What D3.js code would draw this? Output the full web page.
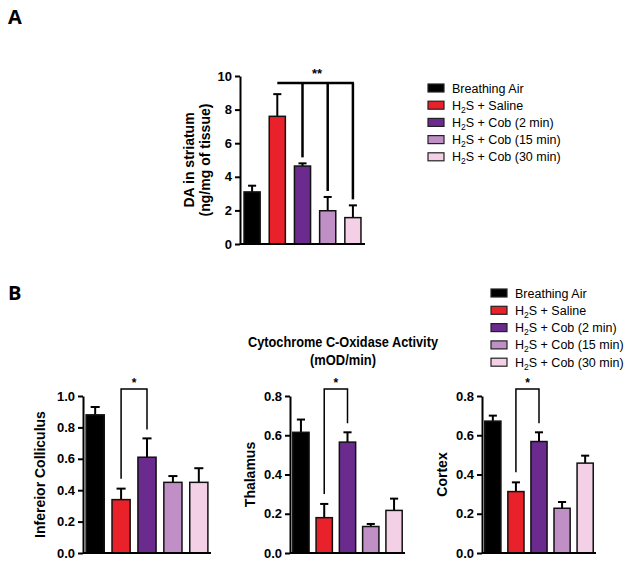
<!DOCTYPE html>
<html>
<head>
<meta charset="utf-8">
<script src="https://cdn.jsdelivr.net/npm/d3@7"></script>
<style>
  body { margin: 0; background: #fff; }
  svg { font-family: "Liberation Sans", Arial, sans-serif; }
  .axis path, .axis line { stroke: #000; stroke-width: 2; }
  .axis text { font-weight: bold; font-size: 13px; fill: #000; }
</style>
</head>
<body>
<svg id="chart" width="635" height="565"></svg>
<script>
// groups, shared by every panel
const groups = ['Breathing Air', 'H2S + Saline', 'H2S + Cob (2 min)', 'H2S + Cob (15 min)', 'H2S + Cob (30 min)'];
const groupColors = ['#000000', '#e8212b', '#6b2a8e', '#c08fc6', '#f3d0e6'];

// panel A: dopamine in striatum
const daMean = [3.1, 7.6, 4.64, 1.98, 1.57];
const daErr = [0.37, 1.32, 0.16, 0.82, 0.73];
const daTicks = [0, 2, 4, 6, 8, 10];

// panel B: cytochrome c oxidase
const icMean = [0.88, 0.34, 0.61, 0.45, 0.45];
const icErr = [0.05, 0.07, 0.12, 0.04, 0.09];
const icTicks = [0, 0.2, 0.4, 0.6, 0.8, 1.0];

const thMean = [0.615, 0.18, 0.565, 0.135, 0.217];
const thErr = [0.065, 0.07, 0.05, 0.013, 0.06];

const cxMean = [0.672, 0.313, 0.568, 0.228, 0.458];
const cxErr = [0.028, 0.047, 0.047, 0.032, 0.038];
const cbTicks = [0, 0.2, 0.4, 0.6, 0.8];

const svg = d3.select('#chart');

function barPanel (opt) {
  const g = svg.append('g').attr('transform', 'translate(' + opt.left + ',' + opt.top + ')');
  const x = d3.scaleBand().domain(groups).range([0, opt.width]).paddingInner(opt.pad).paddingOuter(opt.outer);
  const y = d3.scaleLinear().domain([0, opt.max]).range([opt.height, 0]);

  // error bars (upper only)
  const eb = g.selectAll('.err').data(opt.mean).enter().append('g');
  eb.append('line')
    .attr('x1', (d, i) => x(groups[i]) + x.bandwidth() / 2)
    .attr('x2', (d, i) => x(groups[i]) + x.bandwidth() / 2)
    .attr('y1', d => y(d))
    .attr('y2', (d, i) => y(d + opt.err[i]))
    .attr('stroke', '#000').attr('stroke-width', 2);
  eb.append('line')
    .attr('x1', (d, i) => x(groups[i]) + x.bandwidth() / 4)
    .attr('x2', (d, i) => x(groups[i]) + x.bandwidth() * 3 / 4)
    .attr('y1', (d, i) => y(d + opt.err[i]))
    .attr('y2', (d, i) => y(d + opt.err[i]))
    .attr('stroke', '#000').attr('stroke-width', 2);

  g.selectAll('.bar').data(opt.mean).enter().append('rect')
    .attr('x', (d, i) => x(groups[i]))
    .attr('y', d => y(d))
    .attr('width', x.bandwidth())
    .attr('height', d => opt.height - y(d))
    .attr('fill', (d, i) => groupColors[i])
    .attr('stroke', '#111').attr('stroke-width', 1.5);

  g.append('g').attr('class', 'axis')
    .call(d3.axisLeft(y).tickValues(opt.ticks).tickSize(5).tickSizeOuter(0).tickPadding(3).tickFormat(opt.fmt));
  g.append('line').attr('x1', 0).attr('x2', opt.width).attr('y1', opt.height).attr('y2', opt.height)
    .attr('stroke', '#000').attr('stroke-width', 2);

  const lab = g.append('text')
    .attr('transform', 'translate(' + opt.labelX + ',' + (opt.height / 2) + ') rotate(-90)')
    .attr('text-anchor', 'middle')
    .attr('font-weight', 'bold').attr('font-size', opt.labelSize || 14);
  opt.label.forEach((t, i) => {
    lab.append('tspan').attr('x', 0).attr('dy', i === 0 ? 0 : 16).text(t);
  });
  return {g: g, x: x, y: y};
}

function legend (lx, ly, step) {
  const lg = svg.append('g').attr('transform', 'translate(' + lx + ',' + ly + ')');
  groups.forEach((name, i) => {
    const row = lg.append('g').attr('transform', 'translate(0,' + (i * step) + ')');
    row.append('rect').attr('x', 0).attr('y', -4).attr('width', 16).attr('height', 8)
      .attr('fill', groupColors[i]).attr('stroke', '#222').attr('stroke-width', 1.2);
    const t = row.append('text').attr('x', 24).attr('y', 4.5).attr('font-size', 12.5).attr('fill', '#000');
    if (name.startsWith('H2S')) {
      t.append('tspan').text('H');
      t.append('tspan').text('2').attr('font-size', 8.5).attr('dy', 3);
      t.append('tspan').text('S' + name.slice(3)).attr('dy', -3);
    } else {
      t.text(name);
    }
  });
}

// ---- panel A ----
svg.append('text').attr('x', 8).attr('y', 24).attr('font-family', 'Open Sans, sans-serif')
  .attr('font-weight', 'bold').attr('font-size', 20).text('A');

const pa = barPanel({
  left: 240, top: 76, width: 125, height: 168, max: 10,
  pad: 0.36, outer: 0.16, mean: daMean, err: daErr, ticks: daTicks,
  fmt: d3.format('d'), label: ['DA in striatum', '(ng/mg of tissue)'], labelX: -46
});
// ** comparison bracket
(function () {
  const cx = i => pa.x(groups[i]) + pa.x.bandwidth() / 2;
  const topY = 7;
  const drops = [2, 3, 4];
  const br = pa.g.append('g').attr('stroke', '#000').attr('stroke-width', 2.5).attr('fill', 'none');
  br.append('line').attr('x1', cx(1)).attr('x2', cx(4) + 1).attr('y1', topY).attr('y2', topY);
  drops.forEach(i => {
    br.append('line').attr('x1', cx(i)).attr('x2', cx(i)).attr('y1', topY)
      .attr('y2', pa.y(daMean[i] + daErr[i]) - 6);
  });
  pa.g.append('text').attr('x', (cx(2) + cx(3)) / 2 + 2).attr('y', 2).attr('text-anchor', 'middle')
    .attr('font-size', 13).attr('font-weight', 'bold').text('**');
})();
legend(428, 88, 17.2);

// ---- panel B ----
svg.append('text').attr('x', 8).attr('y', 300).attr('font-family', 'Open Sans, sans-serif')
  .attr('font-weight', 'bold').attr('font-size', 20).text('B');

const title = svg.append('text').attr('text-anchor', 'middle')
  .attr('font-weight', 'bold').attr('font-size', 15);
title.append('tspan').attr('x', 343).attr('y', 347).attr('textLength', 190).attr('lengthAdjust', 'spacingAndGlyphs')
  .text('Cytochrome C-Oxidase Activity');
title.append('tspan').attr('x', 343).attr('y', 365).attr('textLength', 66).attr('lengthAdjust', 'spacingAndGlyphs')
  .text('(mOD/min)');

legend(491, 293, 17.3);

const f1 = d3.format('.1f');
const panelsB = [
  {left: 83, width: 128, max: 1.0, mean: icMean, err: icErr, ticks: icTicks, label: ['Infereior Colliculus'], labelX: -38},
  {left: 290, width: 115, max: 0.8, mean: thMean, err: thErr, ticks: cbTicks, label: ['Thalamus'], labelX: -35},
  {left: 482, width: 114, max: 0.8, mean: cxMean, err: cxErr, ticks: cbTicks, label: ['Cortex'], labelX: -35}
];
panelsB.forEach(p => {
  const pb = barPanel(Object.assign({top: 396, height: 157, pad: 0.3, outer: 0.12, fmt: f1, labelSize: 14}, p));
  const cx = i => pb.x(groups[i]) + pb.x.bandwidth() / 2;
  const topY = -7;
  pb.g.append('path')
    .attr('d', 'M' + cx(1) + ',' + (pb.y(p.mean[1] + p.err[1]) - 10) + 'V' + topY + 'H' + cx(2) + 'V' + (pb.y(p.mean[2] + p.err[2]) - 9))
    .attr('fill', 'none').attr('stroke', '#000').attr('stroke-width', 1.5);
  pb.g.append('text').attr('x', (cx(1) + cx(2)) / 2).attr('y', -9).attr('text-anchor', 'middle')
    .attr('font-size', 12).attr('font-weight', 'bold').text('*');
});
</script>
</body>
</html>
